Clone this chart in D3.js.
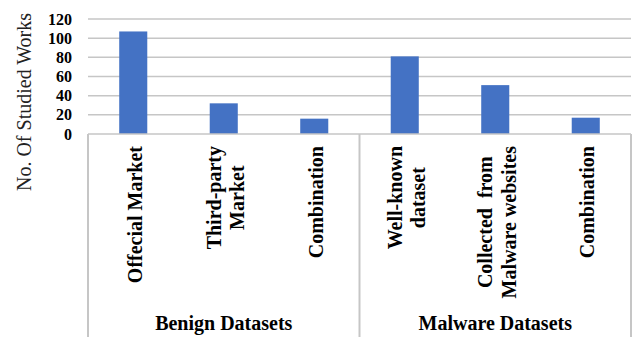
<!DOCTYPE html>
<html>
<head>
<meta charset="utf-8">
<script src="https://cdn.jsdelivr.net/npm/d3@7"></script>
<style>
  html, body { margin: 0; padding: 0; background: #fff; }
  svg text { font-family: "Times New Roman", "Liberation Serif", Tinos, "DejaVu Serif", serif; }
</style>
</head>
<body>
<svg id="chart" width="633" height="337" style="display:block"></svg>
<script>
// Category labels (lines split where they wrap), their group, and counts
const categories = [
  ["Offecial Market"],
  ["Third-party", "Market"],
  ["Combination"],
  ["Well-known", "dataset"],
  ["Collected  from", "Malware websites"],
  ["Combination"]
];
const groupOf = ["Benign Datasets", "Benign Datasets", "Benign Datasets",
                 "Malware Datasets", "Malware Datasets", "Malware Datasets"];
const groups = ["Benign Datasets", "Malware Datasets"];
const values = [107, 32, 16, 81, 51, 17];
const yTicks = [0, 20, 40, 60, 80, 100, 120];
const yTitle = "No. Of Studied Works";

const serif = '"Times New Roman", "Liberation Serif", Tinos, "DejaVu Serif", serif';
const svg = d3.select("#chart");
const plotLeft = 88, plotRight = 631, plotTop = 19, plotBottom = 134, plotFloor = 337;
const gridColor = "#c6c6c6";

const x = d3.scaleBand().domain(d3.range(categories.length)).range([plotLeft, plotRight]).padding(0);
const y = d3.scaleLinear().domain([0, 120]).range([plotBottom, plotTop]);
const barW = x.bandwidth() * 0.31;

// horizontal gridlines
svg.append("g").selectAll("line").data(yTicks.filter(t => t > 0)).join("line")
  .attr("x1", plotLeft).attr("x2", plotRight)
  .attr("y1", d => y(d)).attr("y2", d => y(d))
  .attr("stroke", gridColor).attr("stroke-width", 1.5);

// y axis tick labels
const yAxis = d3.axisLeft(y).tickValues(yTicks).tickSize(0).tickPadding(0);
const yg = svg.append("g").attr("transform", `translate(${plotLeft - 16},0)`).call(yAxis)
  .attr("font-family", serif);
yg.select(".domain").remove();
yg.selectAll("text")
  .style("font-family", serif)
  .attr("font-size", 16).attr("font-weight", "bold").attr("fill", "#000");

// y axis title
svg.append("text")
  .attr("transform", `translate(31,102) rotate(-90)`)
  .attr("text-anchor", "middle")
  .style("font-family", serif)
  .attr("font-size", 20).attr("fill", "#222")
  .text(yTitle);

// bars
svg.append("g").selectAll("rect").data(values).join("rect")
  .attr("x", (d, i) => x(i) + (x.bandwidth() - barW) / 2)
  .attr("width", barW)
  .attr("y", d => y(d))
  .attr("height", d => y(0) - y(d))
  .attr("fill", "#4472C4");

// category axis line and group dividers
svg.append("line").attr("x1", plotLeft).attr("x2", plotRight).attr("y1", plotBottom).attr("y2", plotBottom)
  .attr("stroke", gridColor).attr("stroke-width", 1.5);
const bounds = [0];
groups.forEach(g => bounds.push(bounds[bounds.length - 1] + groupOf.filter(v => v === g).length));
const boundX = b => b < categories.length ? x(b) : plotRight;
svg.append("g").selectAll("line").data(bounds).join("line")
  .attr("x1", boundX).attr("x2", boundX)
  .attr("y1", plotBottom).attr("y2", plotFloor)
  .attr("stroke", gridColor).attr("stroke-width", 2);

// rotated category labels, multi-line centred, top-aligned under the axis
const labelTop = 146, lineH = 23.5;
categories.forEach((lines, i) => {
  const cx = x(i) + x.bandwidth() / 2;
  const g = svg.append("g");
  const texts = lines.map(ln => g.append("text")
    .style("font-family", serif)
    .attr("font-size", 20).attr("font-weight", "bold").attr("fill", "#000")
    .attr("text-anchor", "middle")
    .style("white-space", "pre")
    .text(ln));
  const maxW = d3.max(texts, t => t.node().getComputedTextLength());
  texts.forEach((t, k) => {
    const bx = cx + 8.5 - (lines.length - 1) * lineH / 2 + k * lineH;
    t.attr("transform", `translate(${bx},${labelTop + maxW / 2}) rotate(-90)`);
  });
});

// group labels
groups.forEach((g, gi) => {
  const cx = (boundX(bounds[gi]) + boundX(bounds[gi + 1])) / 2;
  svg.append("text")
    .attr("x", cx).attr("y", 330)
    .attr("text-anchor", "middle")
    .style("font-family", serif)
    .attr("font-size", 20).attr("font-weight", "bold").attr("fill", "#000")
    .text(g);
});
</script>
</body>
</html>
